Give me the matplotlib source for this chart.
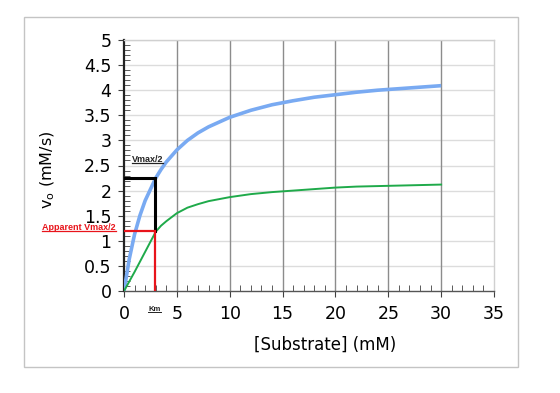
"""Michaelis-Menten saturation curves: normal vs. apparent Vmax."""

import matplotlib

matplotlib.use("Agg")
import matplotlib.pyplot as plt
from matplotlib.lines import Line2D
from matplotlib.patches import Rectangle
from matplotlib.ticker import MultipleLocator

plt.rcParams["font.family"] = ["DejaVu Sans"]

# values
substrate = [0, 0.5, 1, 1.5, 2, 3, 3.5, 4, 5, 6, 7, 8, 10, 12, 14, 16,
             18, 20, 22, 24, 26, 28, 30]
v_normal = [0, 0.64, 1.13, 1.5, 1.8, 2.25, 2.42, 2.57, 2.81, 3.0, 3.15,
            3.27, 3.46, 3.6, 3.71, 3.79, 3.86, 3.91, 3.96, 4.0, 4.03, 4.06, 4.09]
v_apparent = [0, 0.19, 0.38, 0.58, 0.78, 1.18, 1.3, 1.39, 1.55, 1.66, 1.73,
              1.79, 1.87, 1.93, 1.97, 2.0, 2.03, 2.06, 2.08, 2.09, 2.1, 2.11, 2.12]

km = 2.9
half_vmax = 2.25
half_vmax_apparent = 1.19

x_ticks = [0, 5, 10, 15, 20, 25, 30, 35]
y_ticks = [0, 0.5, 1, 1.5, 2, 2.5, 3, 3.5, 4, 4.5, 5]

NOTE_FONT = ["Liberation Sans", "DejaVu Sans"]


def underline(fig, txt, color, lw=0.9):
    """Draw a line just under a text artist (matplotlib has no underline)."""
    fig.canvas.draw()
    bb = txt.get_window_extent()
    x0, y0 = fig.transFigure.inverted().transform((bb.x0, bb.y0 + 1))
    x1, _ = fig.transFigure.inverted().transform((bb.x1, bb.y0 + 1))
    fig.add_artist(Line2D([x0, x1], [y0, y0], color=color, lw=lw,
                          transform=fig.transFigure))


def main() -> None:
    fig = plt.figure(figsize=(5.6, 3.93), dpi=100)
    ax = fig.add_axes([124 / 560, 1 - 291 / 393, 370 / 560, 251 / 393])

    # outer chart frame
    fig.add_artist(Rectangle((24 / 560, 1 - 367 / 393), 494 / 560, 350 / 393,
                             transform=fig.transFigure, fill=False,
                             edgecolor="#c4c4c4", lw=1.0))

    # grid: light horizontals, darker verticals
    for y in y_ticks[1:]:
        ax.axhline(y, color="#dcdcdc", lw=1.0, zorder=0)
    for x in x_ticks[1:-1]:
        ax.axvline(x, color="#8c8c8c", lw=1.0, zorder=0)

    ax.plot(substrate, v_normal, color="#79aaf2", lw=2.6,
            solid_capstyle="butt", zorder=3)
    ax.plot(substrate, v_apparent, color="#1faa4a", lw=1.4, zorder=3)

    # Vmax/2 guide (black) and apparent Vmax/2 guide (red)
    ax.plot([0, km, km], [half_vmax, half_vmax, half_vmax_apparent],
            color="black", lw=2.2, zorder=4, solid_joinstyle="miter")
    ax.plot([0, km, km], [half_vmax_apparent, half_vmax_apparent, 0],
            color="#e8141b", lw=1.6, zorder=4, solid_joinstyle="miter")

    ax.set_xlim(0, 35)
    ax.set_ylim(0, 5)
    ax.set_xticks(x_ticks)
    ax.set_yticks(y_ticks)
    ax.xaxis.set_minor_locator(MultipleLocator(1))
    ax.yaxis.set_minor_locator(MultipleLocator(0.1))
    ax.tick_params(axis="both", which="major", direction="out", length=4,
                   labelsize=12.5, pad=6, color="#404040")
    ax.tick_params(axis="y", which="major", pad=5)
    ax.tick_params(axis="both", which="minor", direction="in", length=4,
                   color="#404040")
    ax.yaxis.set_major_formatter(plt.FuncFormatter(lambda v, _: f"{v:g}"))

    ax.spines["left"].set_color("#222222")
    ax.spines["left"].set_linewidth(1.6)
    ax.spines["bottom"].set_color("#555555")
    ax.spines["bottom"].set_linewidth(1.0)
    for side in ("top", "right"):
        ax.spines[side].set_color("#d0d0d0")
        ax.spines[side].set_linewidth(1.0)

    ax.set_xlabel("[Substrate] (mM)", fontsize=12)
    ax.xaxis.set_label_coords(0.543, -0.18)
    ax.set_ylabel(r"v$_{\mathregular{o}}$ (mM/s)", fontsize=11.5)
    ax.yaxis.set_label_coords(-0.181, 0.482)

    t1 = ax.text(0.75, 2.52, "Vmax/2", fontsize=6.5, fontweight="bold",
                 color="#222222", va="bottom", ha="left", family=NOTE_FONT)
    # sits right on the red guide line, like the reference
    t2 = ax.text(-0.75, 1.175, "Apparent Vmax/2", fontsize=6.5,
                 fontweight="bold", color="#e8141b", va="bottom", ha="right",
                 clip_on=False, family=NOTE_FONT)
    t3 = ax.text(km, -0.3, "Km", fontsize=5.5, fontweight="bold",
                 color="#222222", va="top", ha="center", clip_on=False,
                 family=NOTE_FONT)

    underline(fig, t1, "#222222")
    underline(fig, t2, "#e8141b")
    underline(fig, t3, "#222222", lw=0.7)

    fig.savefig("out.png", dpi=100, facecolor="white")
    plt.close(fig)


if __name__ == "__main__":
    main()
